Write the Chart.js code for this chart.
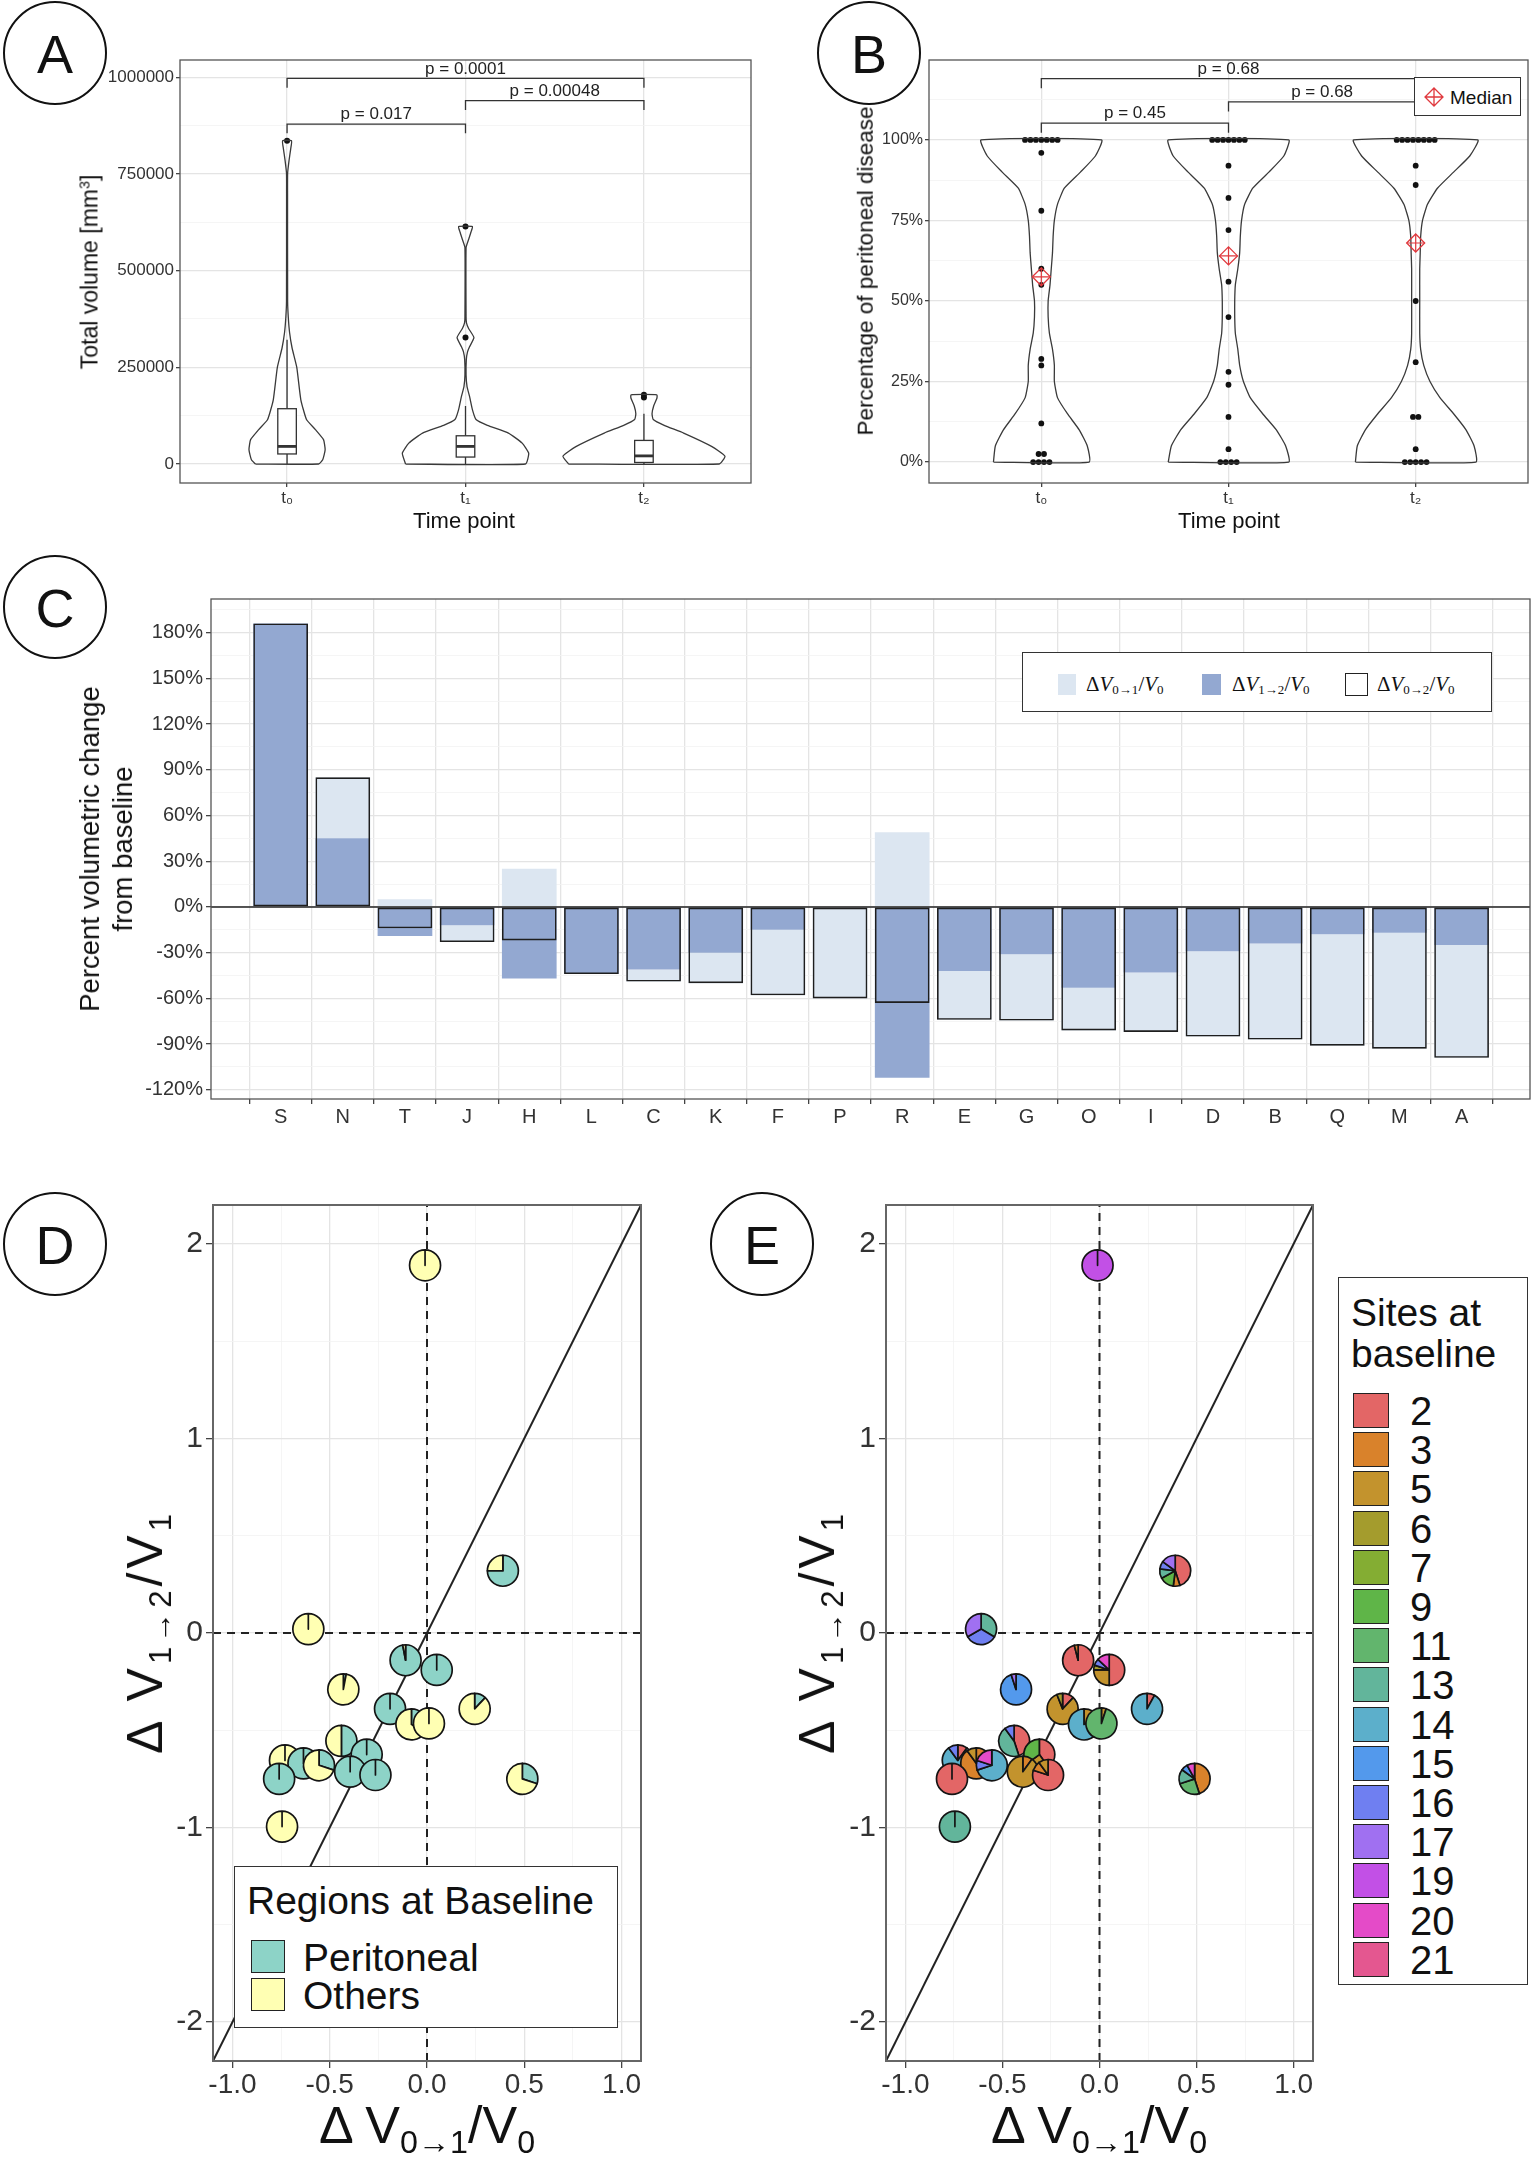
<!DOCTYPE html>
<html>
<head>
<meta charset="utf-8">
<script src="https://cdn.jsdelivr.net/npm/chart.js@4.4.1/dist/chart.umd.min.js"></script>
<style>
  html, body { margin: 0; padding: 0; background: #fff; }
  body { width: 1535px; height: 2162px; position: relative; overflow: hidden;
         font-family: "Liberation Sans", Arial, sans-serif; color: #111; }
  canvas { position: absolute; }
  .tag { position: absolute; width: 100px; height: 100px; margin: -52px 0 0 -52px; border: 2px solid #111;
         border-radius: 50%; text-align: center; line-height: 102px; font-size: 54px; background: #fff; }
  .lbl { position: absolute; white-space: nowrap; line-height: 1; }
  .rot { transform: translate(-50%, -50%) rotate(-90deg); }
  .ctr { transform: translate(-50%, -50%); }
  .vc { transform: translateY(-50%); }
  sub { font-size: 62%; vertical-align: -0.3em; line-height: 0; }
  sup { font-size: 62%; vertical-align: 0.55em; line-height: 0; }
  .serif { font-family: "Liberation Serif", "DejaVu Serif", serif; }
  .box { position: absolute; box-sizing: border-box; border: 1.5px solid #333; background: #fff; }
  .sw { position: absolute; box-sizing: border-box; }
</style>
</head>
<body>

<canvas id="cA"></canvas>
<canvas id="cB"></canvas>
<canvas id="cC"></canvas>
<canvas id="cD"></canvas>
<canvas id="cE"></canvas>

<div class="tag" style="left:55px;top:53px">A</div>
<div class="tag" style="left:869px;top:53px">B</div>
<div class="tag" style="left:55px;top:607px">C</div>
<div class="tag" style="left:55px;top:1244px">D</div>
<div class="tag" style="left:762px;top:1244px">E</div>

<!-- axis titles -->
<div class="lbl rot" style="left:90px;top:272px;font-size:23px">Total volume [mm<sup>3</sup>]</div>
<div class="lbl ctr" style="left:464px;top:521px;font-size:22px">Time point</div>
<div class="lbl rot" style="left:866px;top:271px;font-size:22.5px">Percentage of peritoneal disease</div>
<div class="lbl ctr" style="left:1229px;top:521px;font-size:22px">Time point</div>
<div class="lbl rot" style="left:106px;top:849px;font-size:27.5px;text-align:center;line-height:33px">Percent volumetric change<br>from baseline</div>
<div class="lbl rot" style="left:145px;top:1632px;font-size:50px;letter-spacing:4px">&Delta; V<sub>1&rarr;2</sub>/V<sub>1</sub></div>
<div class="lbl ctr" style="left:427px;top:2125px;font-size:52px">&Delta; V<sub>0&rarr;1</sub>/V<sub>0</sub></div>
<div class="lbl rot" style="left:817px;top:1632px;font-size:50px;letter-spacing:4px">&Delta; V<sub>1&rarr;2</sub>/V<sub>1</sub></div>
<div class="lbl ctr" style="left:1099px;top:2125px;font-size:52px">&Delta; V<sub>0&rarr;1</sub>/V<sub>0</sub></div>

<!-- B: median key -->
<div class="box" style="left:1414px;top:77px;width:107px;height:39px"></div>
<svg style="position:absolute;left:1424px;top:87px" width="20" height="20" viewBox="0 0 20 20">
  <path d="M10 1 L19 10 L10 19 L1 10 Z M10 1 V19 M1 10 H19" fill="none" stroke="#e0393e" stroke-width="1.3"/>
</svg>
<div class="lbl vc" style="left:1450px;top:97px;font-size:19px">Median</div>

<!-- C: key -->
<div class="box" style="left:1022px;top:652px;width:470px;height:60px"></div>
<div class="sw" style="left:1058px;top:674px;width:18px;height:21px;background:#dce6f1"></div>
<div class="lbl vc serif" style="left:1086px;top:684px;font-size:21px">&Delta;<i>V</i><sub>0&rarr;1</sub>/<i>V</i><sub>0</sub></div>
<div class="sw" style="left:1202px;top:674px;width:19px;height:21px;background:#93a8d1"></div>
<div class="lbl vc serif" style="left:1232px;top:684px;font-size:21px">&Delta;<i>V</i><sub>1&rarr;2</sub>/<i>V</i><sub>0</sub></div>
<div class="sw" style="left:1345px;top:673px;width:23px;height:23px;border:1.5px solid #222;background:#fff"></div>
<div class="lbl vc serif" style="left:1377px;top:684px;font-size:21px">&Delta;<i>V</i><sub>0&rarr;2</sub>/<i>V</i><sub>0</sub></div>

<!-- D: key -->
<div class="box" style="left:234px;top:1866px;width:384px;height:162px"></div>
<div class="lbl vc" style="left:247px;top:1900px;font-size:39px">Regions at Baseline</div>
<div class="sw" style="left:251px;top:1940px;width:34px;height:33px;border:1.5px solid #222;background:#8dd3c7"></div>
<div class="lbl vc" style="left:303px;top:1957px;font-size:39px">Peritoneal</div>
<div class="sw" style="left:251px;top:1978px;width:34px;height:33px;border:1.5px solid #222;background:#ffffb3"></div>
<div class="lbl vc" style="left:303px;top:1995px;font-size:39px">Others</div>

<!-- E: key -->
<div class="box" style="left:1338px;top:1277px;width:190px;height:708px"></div>
<div class="lbl" style="left:1351px;top:1292px;font-size:39px;line-height:41px">Sites at<br>baseline</div>
<div id="siteKey"></div>

<script>
// ---------------- data ----------------
var timeLabels = ['t\u2080', 't\u2081', 't\u2082'];

// A: total volume [mm3]; violin profiles are [value, relative density]
var volViolinT0 = [[0, .39], [11000, .44], [37000, .47], [63000, .45], [89000, .35], [115000, .24], [166000, .17],
  [250000, .12], [300000, .062], [340000, .031], [380000, .015], [420000, .007], [700000, .006], [752000, .007],
  [786000, .025], [815000, .045], [836000, .055]];
var volViolinT1 = [[0, .74], [28000, .78], [54000, .70], [80000, .53], [100000, .27], [115000, .13], [140000, .086],
  [175000, .05], [200000, .019], [230000, .007], [270000, .01], [290000, .025], [303000, .05], [327000, .104],
  [351000, .037], [365000, .012], [380000, .007], [560000, .007], [580000, .037], [600000, .068], [614000, .086]];
var volViolinT2 = [[0, .93], [20000, 1], [45000, .84], [80000, .49], [100000, .25], [115000, .115], [130000, .10],
  [150000, .12], [170000, .16], [179000, .16]];
// lower whisker, Q1, median, Q3, upper whisker
var volBoxes = [[0, 26000, 45500, 143000, 321000], [0, 18000, 45500, 73000, 150000], [0, 4000, 21000, 61000, 130000]];
var volOutliers = [[836000], [327000, 614000], [172000, 179000]];
var volPairs = [[0, 1], [0, 2], [1, 2]];
var volPLabels = ['p = 0.017', 'p = 0.0001', 'p = 0.00048'];
var volPLevels = [879000, 997000, 939500];
var volTicks = [0, 125000, 250000, 375000, 500000, 625000, 750000, 875000, 1000000];

// B: percentage of peritoneal disease
var pctT0 = [100, 100, 100, 100, 100, 100, 100, 96, 78, 60, 55, 32, 30, 12, 2.5, 2.5, 0, 0, 0, 0];
var pctT1 = [100, 100, 100, 100, 100, 100, 100, 92, 82, 72, 56, 45, 28, 24, 14, 4, 0, 0, 0, 0];
var pctT2 = [100, 100, 100, 100, 100, 100, 100, 100, 92, 86, 50, 31, 14, 14, 4, 0, 0, 0, 0, 0];
var pctMedians = [57.5, 64, 68];
var pctViolinT0 = [[0, .77], [5, .74], [10, .61], [15, .42], [20, .26], [25, .21], [30, .21], [35, .18], [40, .13],
  [45, .11], [50, .11], [55, .14], [60, .16], [65, .18], [70, .19], [75, .21], [80, .26], [85, .37], [90, .63], [95, .87], [100, .97]];
var pctViolinT1 = [[0, .97], [5, .92], [10, .77], [15, .55], [20, .35], [25, .24], [30, .18], [35, .15], [40, .11],
  [45, .10], [50, .10], [55, .11], [60, .15], [65, .18], [70, .19], [75, .21], [80, .26], [85, .39], [90, .65], [95, .89], [100, .97]];
var pctViolinT2 = [[0, .97], [5, .94], [10, .81], [15, .61], [20, .39], [25, .23], [30, .13], [35, .08], [40, .065],
  [50, .065], [60, .065], [65, .073], [70, .08], [75, .11], [80, .19], [85, .35], [90, .61], [95, .87], [100, 1]];
var pctPairs = [[0, 1], [0, 2], [1, 2]];
var pctPLabels = ['p = 0.45', 'p = 0.68', 'p = 0.68'];
var pctPLevels = [105.2, 119, 111.8];
var pctTicks = [0, 12.5, 25, 37.5, 50, 62.5, 75, 87.5, 100, 112.5];

// C: percent volumetric change from baseline
var patients = ['S', 'N', 'T', 'J', 'H', 'L', 'C', 'K', 'F', 'P', 'R', 'E', 'G', 'O', 'I', 'D', 'B', 'Q', 'M', 'A'];
var dV01 = [0, 40, 5, -11, 25, 0, -8, -20, -43, -60, 49, -32, -43.5, -28, -39, -56, -63, -73, -76, -74];
var dV12 = [186, 45, -19, -12, -47, -44, -41, -30, -15, 0, -112, -42, -31, -53, -43, -29, -24, -18, -17, -25];
var dV02 = [186, 85, -14, -23, -22, -44, -49, -50, -58, -60, -63, -74, -74.5, -81, -82, -85, -87, -91, -93, -99];
var changeTicks = [-120, -105, -90, -75, -60, -45, -30, -15, 0, 15, 30, 45, 60, 75, 90, 105, 120, 135, 150, 165, 180, 195];

// D / E: relative changes per patient
var relX = [-0.01, 0.39, -0.61, -0.11, 0.05, -0.43, -0.19, -0.08, 0.01, 0.245, -0.44, -0.31, -0.73, -0.635, -0.555, -0.76, -0.395, -0.265, 0.49, -0.745];
var relY = [1.89, 0.32, 0.02, -0.14, -0.19, -0.29, -0.39, -0.47, -0.465, -0.39, -0.555, -0.625, -0.655, -0.67, -0.68, -0.75, -0.713, -0.73, -0.75, -0.995];
var peritonealShare = [0, .75, 0, .97, 1, .03, 1, .35, 0, .12, .5, 1, 0, 1, .3, 1, 1, 1, .3, 0];
var siteLabels = ['2', '3', '5', '6', '7', '9', '11', '13', '14', '15', '16', '17', '19', '20', '21'];
var siteColors = ['#e36666', '#d9822b', '#c3932d', '#a49c2d', '#84ad33', '#5fb548', '#62b56d', '#62b59b',
  '#5cafcb', '#5399ec', '#6f7ff1', '#a070f1', '#c250e6', '#e44bc8', '#e45790'];
// per patient: [site index, share]
var siteShares = [
  [[12, 1]],
  [[0, .45], [1, .07], [5, .15], [7, .1], [10, .08], [11, .15]],
  [[7, .334], [10, .333], [11, .333]],
  [[0, .96], [1, .04]],
  [[0, .5], [2, .25], [3, .05], [10, .07], [13, .13]],
  [[9, .95], [11, .05]],
  [[0, .12], [2, .82], [3, .06]],
  [[2, .18], [8, .82]],
  [[2, .05], [6, .95]],
  [[0, .08], [8, .92]],
  [[0, .45], [7, .45], [10, .1]],
  [[0, .4], [2, .25], [5, .35]],
  [[0, .1], [8, .8], [10, .1]],
  [[1, .9], [2, .1]],
  [[8, .7], [10, .1], [13, .2]],
  [[0, 1]],
  [[1, .1], [2, .9]],
  [[0, .8], [1, .1], [2, .1]],
  [[1, .45], [6, .25], [7, .15], [9, .07], [13, .08]],
  [[7, 1]]
];
var relTicksX = [-1, -0.75, -0.5, -0.25, 0, 0.25, 0.5, 0.75, 1];
var relTicksY = [-2, -1.5, -1, -0.5, 0, 0.5, 1, 1.5, 2];

// ---------------- helpers ----------------
Chart.defaults.font.family = '"Liberation Sans", Arial, sans-serif';
Chart.defaults.color = '#333';

function place(id, frame, pad) {
  var c = document.getElementById(id);
  var w = Math.round(frame[2] - frame[0] + pad[0] + pad[2]);
  var h = Math.round(frame[3] - frame[1] + pad[1] + pad[3]);
  c.style.left = Math.round(frame[0] - pad[0]) + 'px';
  c.style.top = Math.round(frame[1] - pad[1]) + 'px';
  c.width = w; c.height = h;
  c.style.width = w + 'px'; c.style.height = h + 'px';
  return c;
}

function axis(o) {
  var major = o.major || function () { return true; };
  return {
    type: 'linear', min: o.min, max: o.max,
    afterBuildTicks: function (s) { s.ticks = o.ticks.map(function (v) { return { value: v }; }); },
    afterFit: function (s) { if (o.horizontal) s.height = o.size; else s.width = o.size; },
    ticks: {
      autoSkip: false, maxRotation: 0, padding: o.padding, color: '#333',
      font: { size: o.font }, callback: function (v) { return major(v) ? o.label(v) : ''; }
    },
    grid: {
      tickLength: o.tick,
      color: function (c) { return c.tick && !major(c.tick.value) ? '#f2f2f2' : '#e4e4e4'; },
      lineWidth: function (c) { return c.tick && !major(c.tick.value) ? 0.8 : 1.3; },
      tickColor: function (c) { return c.tick && !major(c.tick.value) ? 'rgba(0,0,0,0)' : '#444'; }
    },
    border: { display: false }
  };
}

var framePlugin = {
  id: 'frame',
  afterDraw: function (chart, args, o) {
    var a = chart.chartArea, ctx = chart.ctx;
    ctx.save();
    ctx.strokeStyle = o.color || '#555';
    ctx.lineWidth = o.width || 1.3;
    ctx.strokeRect(a.left, a.top, a.right - a.left, a.bottom - a.top);
    ctx.restore();
  }
};

var boxPlugin = {
  id: 'boxes',
  afterDatasetsDraw: function (chart, args, o) {
    if (!o.stats) return;
    var xs = chart.scales.x, ys = chart.scales.y, ctx = chart.ctx;
    ctx.save();
    ctx.strokeStyle = '#333';
    o.stats.forEach(function (s, i) {
      var xl = xs.getPixelForValue(i - o.half), xr = xs.getPixelForValue(i + o.half), xc = xs.getPixelForValue(i);
      var p = s.map(function (v) { return ys.getPixelForValue(v); });
      ctx.lineWidth = 1.3;
      ctx.beginPath();
      ctx.moveTo(xc, p[0]); ctx.lineTo(xc, p[1]);
      ctx.moveTo(xc, p[3]); ctx.lineTo(xc, p[4]);
      ctx.stroke();
      ctx.fillStyle = '#fff';
      ctx.fillRect(xl, p[3], xr - xl, p[1] - p[3]);
      ctx.strokeRect(xl, p[3], xr - xl, p[1] - p[3]);
      ctx.lineWidth = 2.8;
      ctx.beginPath(); ctx.moveTo(xl, p[2]); ctx.lineTo(xr, p[2]); ctx.stroke();
    });
    ctx.restore();
  }
};

var bracketPlugin = {
  id: 'brackets',
  afterDatasetsDraw: function (chart, args, o) {
    if (!o.pairs) return;
    var xs = chart.scales.x, ys = chart.scales.y, ctx = chart.ctx;
    ctx.save();
    ctx.strokeStyle = '#333'; ctx.lineWidth = 1.3; ctx.fillStyle = '#222';
    ctx.font = o.font + 'px "Liberation Sans", Arial, sans-serif';
    ctx.textAlign = 'center'; ctx.textBaseline = 'bottom';
    o.pairs.forEach(function (pr, i) {
      var x0 = xs.getPixelForValue(pr[0]), x1 = xs.getPixelForValue(pr[1]);
      var yl = ys.getPixelForValue(o.levels[i]), yt = ys.getPixelForValue(o.levels[i] - o.drop);
      ctx.beginPath();
      ctx.moveTo(x0, yt); ctx.lineTo(x0, yl); ctx.lineTo(x1, yl); ctx.lineTo(x1, yt);
      ctx.stroke();
      ctx.fillText(o.labels[i], (x0 + x1) / 2, yl - 1);
    });
    ctx.restore();
  }
};

var zeroPlugin = {
  id: 'zeroLine',
  afterDatasetsDraw: function (chart, args, o) {
    if (!o.on) return;
    var a = chart.chartArea, y = chart.scales.y.getPixelForValue(0), ctx = chart.ctx;
    ctx.save(); ctx.strokeStyle = '#222'; ctx.lineWidth = 1.4;
    ctx.beginPath(); ctx.moveTo(a.left, y); ctx.lineTo(a.right, y); ctx.stroke();
    ctx.restore();
  }
};

var piePlugin = {
  id: 'pies',
  afterDatasetsDraw: function (chart, args, o) {
    if (!o.slices) return;
    var meta = chart.getDatasetMeta(o.dataset), ctx = chart.ctx;
    ctx.save();
    ctx.strokeStyle = '#141414'; ctx.lineWidth = 1.7; ctx.lineJoin = 'round';
    meta.data.forEach(function (pt, i) {
      var a0 = -Math.PI / 2;
      o.slices[i].forEach(function (s) {
        if (s[1] <= 0) return;
        var a1 = a0 + s[1] * 2 * Math.PI;
        ctx.beginPath();
        ctx.moveTo(pt.x, pt.y);
        ctx.arc(pt.x, pt.y, o.radius, a0, a1);
        ctx.closePath();
        ctx.fillStyle = s[0]; ctx.fill(); ctx.stroke();
        a0 = a1;
      });
    });
    ctx.restore();
  }
};

function violin(profile, center, halfMax) {
  var left = profile.map(function (p) { return { x: center - p[1] * halfMax, y: p[0] }; });
  var right = profile.slice().reverse().map(function (p) { return { x: center + p[1] * halfMax, y: p[0] }; });
  var pts = left.concat(right);
  pts.push(left[0]);
  return { data: pts, showLine: true, borderColor: '#3a3a3a', borderWidth: 1.3, pointRadius: 0, tension: 0.15, fill: false };
}

function dots(values, center, step) {
  var counts = {}, pts = [];
  values.forEach(function (v) { counts[v] = (counts[v] || 0) + 1; });
  Object.keys(counts).forEach(function (k) {
    var n = counts[k];
    for (var j = 0; j < n; j++) pts.push({ x: center + (j - (n - 1) / 2) * step, y: +k });
  });
  return pts;
}

function baseOptions(pad) {
  return {
    responsive: false, animation: false, events: [],
    layout: { padding: { left: 0, top: pad[1], right: pad[2], bottom: 0 }, autoPadding: false },
    plugins: { legend: { display: false }, tooltip: { enabled: false } }
  };
}

// ---------------- A ----------------
(function () {
  var pad = [120, 20, 20, 58];
  var c = place('cA', [180.4, 60, 751, 483.3], pad);
  var opts = baseOptions(pad);
  opts.plugins.frame = { color: '#555' };
  opts.plugins.boxes = { stats: volBoxes, half: 0.052 };
  opts.plugins.brackets = { pairs: volPairs, labels: volPLabels, levels: volPLevels, drop: 24000, font: 17 };
  opts.scales = {
    x: axis({ min: -0.6, max: 2.6, ticks: [0, 1, 2], label: function (v) { return timeLabels[v]; },
      horizontal: true, size: pad[3], font: 17, tick: 4, padding: 1 }),
    y: axis({ min: -49100, max: 1044700, ticks: volTicks, major: function (v) { return v % 250000 === 0; },
      label: function (v) { return String(v); }, size: pad[0], font: 17, tick: 4, padding: 2 })
  };
  var sets = [violin(volViolinT0, 0, 0.454), violin(volViolinT1, 1, 0.454), violin(volViolinT2, 2, 0.454)];
  var outl = [];
  volOutliers.forEach(function (arr, i) { arr.forEach(function (v) { outl.push({ x: i, y: v }); }); });
  sets.push({ data: outl, pointRadius: 3, pointBackgroundColor: '#111', pointBorderWidth: 0 });
  new Chart(c, { type: 'scatter', data: { datasets: sets }, options: opts, plugins: [framePlugin, boxPlugin, bracketPlugin] });
})();

// ---------------- B ----------------
(function () {
  var pad = [100, 20, 7, 58];
  var c = place('cB', [928.6, 60, 1528, 483.3], pad);
  var opts = baseOptions(pad);
  opts.plugins.frame = { color: '#555' };
  opts.plugins.brackets = { pairs: pctPairs, labels: pctPLabels, levels: pctPLevels, drop: 3, font: 17 };
  opts.scales = {
    x: axis({ min: -0.6, max: 2.6, ticks: [0, 1, 2], label: function (v) { return timeLabels[v]; },
      horizontal: true, size: pad[3], font: 17, tick: 4, padding: 1 }),
    y: axis({ min: -6.5, max: 124.8, ticks: pctTicks, major: function (v) { return v % 25 === 0; },
      label: function (v) { return v + '%'; }, size: pad[0], font: 16, tick: 4, padding: 2 })
  };
  var half = 0.332, step = 0.029;
  var sets = [violin(pctViolinT0, 0, half), violin(pctViolinT1, 1, half), violin(pctViolinT2, 2, half)];
  var pts = dots(pctT0, 0, step).concat(dots(pctT1, 1, step), dots(pctT2, 2, step));
  var med = pctMedians.map(function (m, i) { return { x: i, y: m }; });
  sets.unshift({ data: med, pointStyle: 'cross', pointRadius: 9, pointBorderColor: '#e0393e', pointBorderWidth: 1.2 });
  sets.unshift({ data: med, pointStyle: 'rectRot', pointRadius: 9, pointBackgroundColor: 'rgba(0,0,0,0)', pointBorderColor: '#e0393e', pointBorderWidth: 1.3 });
  sets.push({ data: pts, pointRadius: 2.9, pointBackgroundColor: '#111', pointBorderWidth: 0 });
  new Chart(c, { type: 'scatter', data: { datasets: sets }, options: opts, plugins: [framePlugin, bracketPlugin] });
})();

// ---------------- C ----------------
(function () {
  var pad = [120, 20, 5, 40];
  var c = place('cC', [210.7, 599, 1529.6, 1099.3], pad);
  var opts = baseOptions(pad);
  opts.plugins.frame = { color: '#555' };
  opts.plugins.zeroLine = { on: true };
  opts.scales = {
    x: axis({ min: -0.59, max: 19.57, ticks: patients.map(function (p, i) { return i; }),
      label: function (v) { return patients[v]; }, horizontal: true, size: pad[3], font: 20, tick: 5, padding: 1 }),
    y: axis({ min: -126, max: 202, ticks: changeTicks, major: function (v) { return v % 30 === 0; },
      label: function (v) { return v + '%'; }, size: pad[0], font: 20, tick: 5, padding: 3 })
  };
  opts.scales.y.stacked = true;
  function xy(arr) { return arr.map(function (v, i) { return { x: i, y: v }; }); }
  var common = { grouped: false, categoryPercentage: 1, barPercentage: 0.88 };
  var sets = [
    Object.assign({ data: xy(dV02), stack: 'total', backgroundColor: 'rgba(0,0,0,0)', borderColor: '#1e1e1e', borderWidth: 1.6, borderSkipped: false }, common),
    Object.assign({ data: xy(dV12), stack: 'parts', backgroundColor: '#93a8d1', borderWidth: 0 }, common),
    Object.assign({ data: xy(dV01), stack: 'parts', backgroundColor: '#dce6f1', borderWidth: 0 }, common)
  ];
  new Chart(c, { type: 'bar', data: { datasets: sets }, options: opts, plugins: [framePlugin, zeroPlugin] });
})();

// ---------------- D and E ----------------
function relChart(id, frame, slices) {
  var pad = [110, 20, 20, 50];
  var c = place(id, frame, pad);
  var opts = baseOptions(pad);
  opts.plugins.frame = { color: '#666', width: 2 };
  opts.plugins.pies = { dataset: 3, radius: 15.5, slices: slices };
  var half = function (v) { return Math.abs(v * 2 - Math.round(v * 2)) < 1e-6; };
  var whole = function (v) { return Math.abs(v - Math.round(v)) < 1e-6; };
  opts.scales = {
    x: axis({ min: -1.1, max: 1.1, ticks: relTicksX, major: half, label: function (v) { return v.toFixed(1); },
      horizontal: true, size: pad[3], font: 28, tick: 7, padding: 0 }),
    y: axis({ min: -2.2, max: 2.2, ticks: relTicksY, major: whole, label: function (v) { return String(v); },
      size: pad[0], font: 30, tick: 7, padding: 3 })
  };
  var dash = { showLine: true, borderColor: '#222', borderWidth: 2, borderDash: [8, 6], pointRadius: 0 };
  var sets = [
    Object.assign({ data: [{ x: 0, y: -2.2 }, { x: 0, y: 2.2 }] }, dash),
    Object.assign({ data: [{ x: -1.1, y: 0 }, { x: 1.1, y: 0 }] }, dash),
    { data: [{ x: -1.1, y: -2.2 }, { x: 1.1, y: 2.2 }], showLine: true, borderColor: '#222', borderWidth: 2, pointRadius: 0 },
    { data: relX.map(function (v, i) { return { x: v, y: relY[i] }; }), pointRadius: 0 }
  ];
  new Chart(c, { type: 'scatter', data: { datasets: sets }, options: opts, plugins: [framePlugin, piePlugin] });
}

relChart('cD', [213.3, 1204.3, 641.7, 2061], peritonealShare.map(function (p) {
  return [['#8dd3c7', p], ['#ffffb3', 1 - p]];
}));
relChart('cE', [886, 1204.3, 1313.2, 2061], siteShares.map(function (list) {
  return list.map(function (s) { return [siteColors[s[0]], s[1]]; });
}));

// E key entries
(function () {
  var html = '';
  siteLabels.forEach(function (s, i) {
    var top = 1393 + i * 39.2;
    html += '<div class="sw" style="left:1353px;top:' + top + 'px;width:36px;height:35px;border:1.5px solid #222;background:' + siteColors[i] + '"></div>';
    html += '<div class="lbl vc" style="left:1410px;top:' + (top + 18) + 'px;font-size:40px">' + s + '</div>';
  });
  document.getElementById('siteKey').innerHTML = html;
})();
</script>
</body>
</html>
